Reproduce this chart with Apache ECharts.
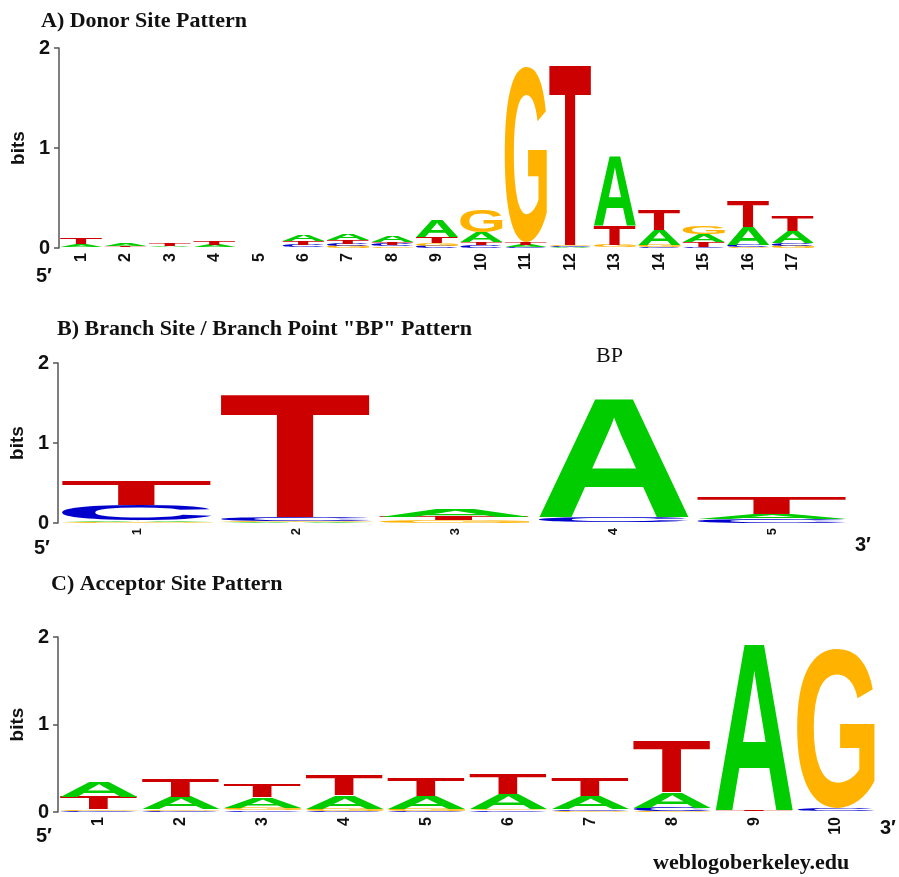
<!DOCTYPE html>
<html>
<head>
<meta charset="utf-8">
<script src="https://cdn.jsdelivr.net/npm/echarts@6/dist/echarts.min.js"></script>
<style>
  html, body { margin: 0; padding: 0; background: #fff; }
  #main { width: 899px; height: 877px; }
</style>
</head>
<body>
<div id="main"></div>
<script>
// sequence logo data (bits per letter)
const letters = ['A', 'C', 'G', 'T'];
const letterColors = ['#00CC00', '#0000CC', '#FFB300', '#CC0000'];

// A) donor site
const donorPos = ['1','2','3','4','5','6','7','8','9','10','11','12','13','14','15','16','17'];
const donorA = [0.03, 0.02, 0.015, 0.02, 0, 0.06, 0.07, 0.07, 0.17, 0.1, 0.02, 0.01, 0.7, 0.15, 0.075, 0.18, 0.12];
const donorC = [0.005, 0.003, 0.003, 0.005, 0, 0.03, 0.025, 0.02, 0.02, 0.03, 0.01, 0.01, 0.005, 0.01, 0.01, 0.02, 0.03];
const donorG = [0.005, 0.003, 0.005, 0.005, 0, 0.005, 0.02, 0.015, 0.03, 0.22, 1.75, 0.01, 0.03, 0.02, 0.08, 0.01, 0.02];
const donorT = [0.06, 0.012, 0.03, 0.04, 0, 0.035, 0.04, 0.025, 0.06, 0.03, 0.03, 1.82, 0.19, 0.2, 0.05, 0.26, 0.15];

// B) branch site
const branchPos = ['1','2','3','4','5'];
const branchA = [0.02, 0.01, 0.1, 1.5, 0.07];
const branchC = [0.2, 0.05, 0.005, 0.07, 0.04];
const branchG = [0.01, 0.01, 0.03, 0.005, 0.005];
const branchT = [0.3, 1.55, 0.04, 0.005, 0.21];

// C) acceptor site
const accPos = ['1','2','3','4','5','6','7','8','9','10'];
const accA = [0.17, 0.14, 0.12, 0.15, 0.14, 0.17, 0.15, 0.18, 1.92, 0.005];
const accC = [0.01, 0.01, 0.02, 0.01, 0.01, 0.02, 0.02, 0.04, 0.005, 0.03];
const accG = [0.02, 0.02, 0.03, 0.03, 0.03, 0.02, 0.015, 0.01, 0.005, 1.83];
const accT = [0.14, 0.2, 0.15, 0.23, 0.21, 0.24, 0.2, 0.6, 0.01, 0.005];

const yTicks = [0, 1, 2];

const LETTER_FONT = 'bold 100px "Liberation Sans", Arial, sans-serif';
const SERIF = '"Liberation Serif", "Times New Roman", serif';
const SANS = '"Liberation Sans", Arial, sans-serif';

// measure ink box of each letter (center / middle anchor, same as zrender draws it)
const glyphBox = (function () {
  const cv = document.createElement('canvas');
  const ctx = cv.getContext('2d');
  ctx.font = LETTER_FONT;
  ctx.textAlign = 'center';
  ctx.textBaseline = 'middle';
  return letters.map(function (ch) {
    const m = ctx.measureText(ch);
    return {
      l: m.actualBoundingBoxLeft,
      r: m.actualBoundingBoxRight,
      a: m.actualBoundingBoxAscent,
      d: m.actualBoundingBoxDescent
    };
  });
})();

// stack letters per column, smallest at the bottom
function stackColumns(cols) {
  let out = [];
  const n = cols[0].length;
  for (let i = 0; i < n; i++) {
    let items = cols.map(function (c, k) { return { k: k, h: c[i] }; });
    items.sort(function (p, q) { return p.h - q.h; });
    let base = 0;
    for (let it of items) {
      if (it.h > 0) out.push([i, base, base + it.h, it.k]);
      base += it.h;
    }
  }
  return out;
}

function renderLetter(params, api) {
  const pos = api.value(0);
  const lo = api.value(1), hi = api.value(2), k = api.value(3);
  const p0 = api.coord([pos, lo]);
  const p1 = api.coord([pos, hi]);
  const bw = api.size([1, 0])[0] * 0.95;
  const h = p0[1] - p1[1];
  if (h < 0.4) return null;
  const m = glyphBox[k];
  const sx = bw / (m.l + m.r);
  const sy = h / (m.a + m.d);
  return {
    type: 'text',
    x: p0[0] - bw / 2 + m.l * sx,
    y: p1[1] + m.a * sy,
    scaleX: sx,
    scaleY: sy,
    style: {
      text: letters[k],
      font: LETTER_FONT,
      fill: letterColors[k],
      align: 'center',
      verticalAlign: 'middle',
      textAlign: 'center',
      textVerticalAlign: 'middle'
    }
  };
}

function xAxisOf(idx, cats, fs) {
  return {
    type: 'category',
    gridIndex: idx,
    data: cats,
    axisLine: { show: false },
    axisTick: { show: false },
    axisLabel: { rotate: 90, fontSize: fs, fontWeight: 'bold', fontFamily: SANS, color: '#111', margin: 5 }
  };
}

function yAxisOf(idx, gap) {
  return {
    type: 'value',
    gridIndex: idx,
    min: yTicks[0],
    max: yTicks[yTicks.length - 1],
    interval: 1,
    splitLine: { show: false },
    axisLine: { show: true, lineStyle: { color: '#555', width: 1.5 } },
    axisTick: { show: true, length: 5, lineStyle: { color: '#555', width: 1.5 } },
    axisLabel: { fontSize: 20, fontWeight: 'bold', fontFamily: SANS, color: '#111', margin: 9 },
    name: 'bits',
    nameLocation: 'middle',
    nameGap: gap,
    nameTextStyle: { fontSize: 19, fontWeight: 'bold', fontFamily: SANS, color: '#111' }
  };
}

function logoSeries(idx, cols) {
  return {
    type: 'custom',
    xAxisIndex: idx,
    yAxisIndex: idx,
    silent: true,
    renderItem: renderLetter,
    encode: { x: 0, y: [1, 2] },
    data: stackColumns(cols)
  };
}

function label(txt, x, y, font, size, bold) {
  return {
    type: 'text', x: x, y: y,
    style: { text: txt, fontFamily: font, fontSize: size, fontWeight: bold ? 'bold' : 'normal', fill: '#111' }
  };
}

const chart = echarts.init(document.getElementById('main'));
const titleStyle = { fontFamily: SERIF, fontWeight: 'bold', fontSize: 22, color: '#111' };

chart.setOption({
  animation: false,
  backgroundColor: '#fff',
  title: [
    { text: 'A) Donor Site Pattern', left: 36, top: 5, textStyle: titleStyle },
    { text: 'B) Branch Site / Branch Point "BP" Pattern', left: 52, top: 313, textStyle: titleStyle },
    { text: 'C) Acceptor Site Pattern', left: 46, top: 568, textStyle: titleStyle }
  ],
  grid: [
    { left: 59, right: 84, top: 48, height: 200 },
    { left: 54, right: 47, top: 363, height: 160 },
    { left: 57, right: 22, top: 637, height: 175 }
  ],
  xAxis: [xAxisOf(0, donorPos, 16), xAxisOf(1, branchPos, 13), xAxisOf(2, accPos, 16)],
  yAxis: [yAxisOf(0, 30), yAxisOf(1, 26), yAxisOf(2, 27)],
  series: [
    logoSeries(0, [donorA, donorC, donorG, donorT]),
    logoSeries(1, [branchA, branchC, branchG, branchT]),
    logoSeries(2, [accA, accC, accG, accT])
  ],
  graphic: [
    label('5\u2032', 36, 266, SANS, 20, true),
    label('5\u2032', 34, 538, SANS, 20, true),
    label('3\u2032', 855, 535, SANS, 20, true),
    label('BP', 596, 345, SERIF, 22, false),
    label('5\u2032', 36, 826, SANS, 20, true),
    label('3\u2032', 880, 818, SANS, 20, true),
    label('weblogoberkeley.edu', 653, 852, SERIF, 22, true)
  ]
});
</script>
</body>
</html>
